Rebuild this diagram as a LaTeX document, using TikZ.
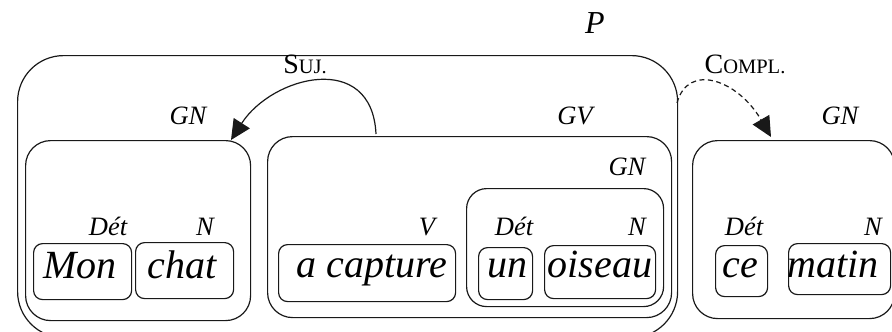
\documentclass[tikz,border=0pt]{standalone}
\usepackage{fontspec}
\setmainfont{Liberation Serif}
\usetikzlibrary{arrows.meta}
\newcommand{\fsz}[1]{\fontsize{#1}{#1}\selectfont}
\begin{document}
\begin{tikzpicture}[x=1pt,y=-1pt,
  box/.style={draw=black!90,line width=1.2pt,inner sep=0pt,anchor=north west},
  word/.style={font=\fsz{40}\itshape,inner sep=0pt,anchor=base},
  cat/.style={font=\fsz{26.5}\itshape,inner sep=0pt,anchor=base},
  rel/.style={inner sep=0pt,anchor=base},
  conn/.style={draw=black!90,line width=1.2pt,-{Triangle[length=20pt,width=19pt]}}
]
\useasboundingbox (0,0) rectangle (892,332);
\clip (0,0) rectangle (892,332);
% boxes
\node[box,rounded corners=46pt,minimum width=660pt,minimum height=282pt] (P) at (17,55) {};
\node[box,rounded corners=25pt,minimum width=225pt,minimum height=180pt] (gn1) at (25,140) {};
\node[box,rounded corners=9pt,minimum width=98pt,minimum height=56pt] (mon) at (33,243) {};
\node[box,rounded corners=9pt,minimum width=98pt,minimum height=56pt] (chat) at (135,242) {};
\node[box,rounded corners=25pt,minimum width=404pt,minimum height=181pt] (gv) at (267,136) {};
\node[box,rounded corners=9pt,minimum width=177pt,minimum height=57pt] (acap) at (278,244) {};
\node[box,rounded corners=20pt,minimum width=197pt,minimum height=118pt] (gnin) at (466,188) {};
\node[box,rounded corners=9pt,minimum width=54pt,minimum height=52pt] (un) at (478,247) {};
\node[box,rounded corners=9pt,minimum width=111pt,minimum height=53pt] (ois) at (544,245) {};
\node[box,rounded corners=25pt,minimum width=202pt,minimum height=178pt] (gn2) at (692,140) {};
\node[box,rounded corners=9pt,minimum width=52pt,minimum height=51pt] (ce) at (715,245) {};
\node[box,rounded corners=9pt,minimum width=102pt,minimum height=51pt] (matin) at (788,243) {};
% words
\node[word] (tmon) at (80,278) {Mon};
\node[word] (tchat) at (182,278) {chat};
\node[word] (tacap) at (372,277) {a capture};
\node[word] (tun) at (507,277) {un};
\node[word] (tois) at (600,277) {oiseau};
\node[word] (tce) at (740,277) {ce};
\node[word] (tmatin) at (833,277) {matin};
% category labels
\node[cat] (d1) at (108,235) {Dét};
\node[cat] (n1) at (205,235) {N};
\node[cat] (v1) at (427,235) {V};
\node[cat] (d2) at (514,235) {Dét};
\node[cat] (n2) at (637,235) {N};
\node[cat] (d3) at (744,235) {Dét};
\node[cat] (n3) at (873,235) {N};
\node[cat] (lgn1) at (188,124) {GN};
\node[cat] (lgv) at (575,124) {GV};
\node[cat] (lgnin) at (627,175) {GN};
\node[cat] (lgn2) at (840,124) {GN};
\node[cat,font=\fsz{32}\itshape] (lp) at (595,34) {P};
% relations
\node[rel] (suj) at (305,73) {\fsz{28}S\fsz{20.5}UJ.};
\node[rel] (compl) at (745,73) {\fsz{28}C\fsz{20.5}OMPL.};
% connectors
\coordinate (sujstart) at (376,134);
\coordinate (sujend) at (231,140);
\draw[conn] (sujstart) .. controls (372,50) and (272,76) .. (sujend);
\coordinate (complstart) at (677,103);
\coordinate (complend) at (771,137);
\draw[conn,dash pattern=on 5pt off 3.5pt] (complstart) .. controls (688,62) and (738,80) .. (complend);
\end{tikzpicture}
\end{document}
